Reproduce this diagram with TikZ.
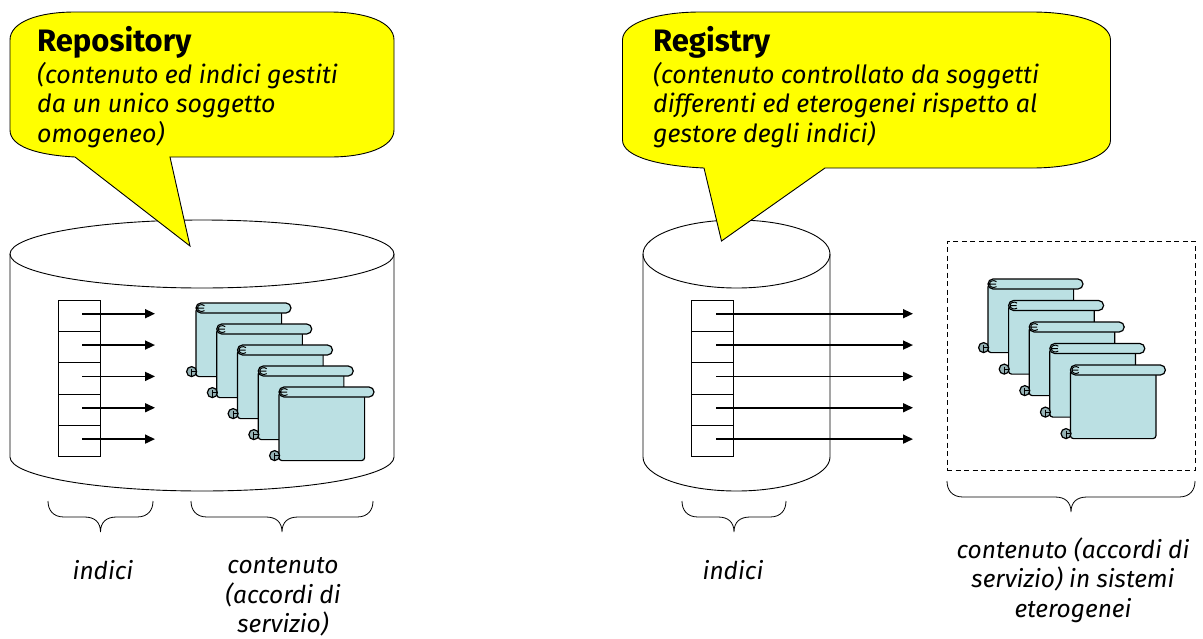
\documentclass[tikz,border=0pt]{standalone}
\usepackage{fontspec}
\setmainfont{Fira Sans}
\usetikzlibrary{arrows.meta}
\definecolor{scrollblue}{HTML}{BBE0E3}
\definecolor{rollblue}{HTML}{96B3B6}
\definecolor{bubbleyellow}{HTML}{FFFF00}
\tikzset{
	bubble/.style={
		draw=black, fill=bubbleyellow, line width=0.9pt
	},
	bubble text/.style={
		anchor=north west, inner sep=0pt, align=left,
		font=\fontsize{25}{29.8}\selectfont\itshape
	},
	drum/.style={
		draw=black, line width=0.9pt
	},
	index cell/.style={
		draw=black, line width=1pt, minimum width=42pt, minimum height=31.4pt, inner sep=0pt
	},
	index arrow/.style={
		-{Triangle[length=10pt,width=9pt]}, line width=1.6pt
	},
	curly/.style={
		line width=0.8pt
	},
	caption/.style={
		align=center, font=\fontsize{24.5}{29.5}\selectfont\itshape
	},
	scroll/.pic={
		\draw[fill=scrollblue, line width=1.2pt, rounded corners=3pt] (0,5) -- (0,73.6) -- (85.6,73.6) -- (85.6,5) -- cycle;
		\draw[fill=scrollblue, line width=1.2pt, rounded corners=5pt] (0,0) rectangle (95,10);
		\draw[fill=rollblue, line width=1.2pt] (-4.4,68.6) circle (5pt);
		\draw[line width=1pt] (-4.4,68.6) -- (0,68.6) (-4.4,66) -- (-4.4,73.6);
		\draw[line width=1pt] (2,5.2) -- (8,5.2) (8.5,2.6) .. controls (5.5,0.6) and (1.5,1.8) .. (1.5,5) .. controls (1.5,8.2) and (5.5,9.4) .. (8.5,7.6);
	}
}
\begin{document}
\begin{tikzpicture}[x=1pt,y=-1pt]
	\useasboundingbox (0,0) rectangle (1203,638);
	
	% cilindri
	\foreach \l/\r/\c/\w in {10/394/202/192, 643/830/736.5/93.5} {
		\draw[drum] (\l,254) -- (\l,457) .. controls (\l,476) and ({\c-0.55*\w},491) .. (\c,491) .. controls ({\c+0.55*\w},491) and (\r,476) .. (\r,457) -- (\r,254);
		\draw[drum] (\c,254) ellipse [x radius=\w pt, y radius=34pt];
	}
	
	% fumetti
	\draw[bubble] (10,40) .. controls (10,22) and (38,12) .. (75,12) -- (330,12) .. controls (366,12) and (394,22) .. (394,40)
		-- (394,130) .. controls (394,147) and (366,157) .. (330,157) -- (170,157) -- (190,246) -- (75,157)
		.. controls (38,155) and (10,147) .. (10,130) -- cycle;
	\draw[bubble] (622.5,40) .. controls (622.5,22) and (660,12) .. (700,12) -- (1032,12) .. controls (1074,12) and (1110.5,22) .. (1110.5,40)
		-- (1110.5,140) .. controls (1110.5,157) and (1074,168) .. (1032,168) -- (825,168) -- (721.5,241) -- (704,168)
		.. controls (660,166) and (622.5,157) .. (622.5,140) -- cycle;
	\node[bubble text] (repoNote) at (37,26) {{\fontsize{31}{31}\selectfont\bfseries\upshape Repository}\\[2pt](contenuto ed indici gestiti\\da un unico soggetto\\omogeneo)};
	\node[bubble text] (regNote) at (653,26) {{\fontsize{31}{31}\selectfont\bfseries\upshape Registry}\\[2pt](contenuto controllato da soggetti\\differenti ed eterogenei rispetto al\\gestore degli indici)};
	
	% indici e frecce
	\foreach \p/\x/\t/\s in {rep/79/155/3pt, reg/712/913/4pt} {
		\foreach \i [evaluate=\i as \y using 315.7+31.35*(\i-1)] in {1,...,5} {
			\node[index cell] (\p\i) at (\x,\y) {};
			\coordinate (\p T\i) at (\t,\y-2);
		}
		\foreach \i in {1,...,5}
			\draw[index arrow] ([xshift=\s,yshift=2pt]\p\i.center) -- (\p T\i);
	}
	
	% contenuti
	\foreach \i in {0,...,4} {
		\pic at ({196+20.75*\i},{303+21*\i}) {scroll};
		\pic at ({988+20.6*\i},{279+21.5*\i}) {scroll};
	}
	\node[draw=black, dash pattern=on 5pt off 3.5pt, line width=1pt, minimum width=248pt, minimum height=229pt, inner sep=0pt] (extBox) at (1071,355.5) {};
	
	% graffe
	\foreach \a/\b/\t in {48/153/501, 191/373/501, 682/786/501, 947/1195/481} {
		\draw[curly] (\a,\t) .. controls (\a,\t+9) and (\a+5,\t+16) .. (\a+16,\t+16)
			-- ({(\a+\b)/2-16},\t+16) .. controls ({(\a+\b)/2-6},\t+16) and ({(\a+\b)/2},\t+21) .. ({(\a+\b)/2},\t+31)
			.. controls ({(\a+\b)/2},\t+21) and ({(\a+\b)/2+6},\t+16) .. ({(\a+\b)/2+16},\t+16)
			-- (\b-16,\t+16) .. controls (\b-5,\t+16) and (\b,\t+9) .. (\b,\t);
	}
	
	\node[caption] (repIdx) at (103,570) {indici};
	\node[caption] (repCnt) at (283,597) {contenuto\\(accordi di\\servizio)};
	\node[caption] (regIdx) at (733,570) {indici};
	\node[caption] (regCnt) at (1073,580) {contenuto (accordi di\\servizio) in sistemi\\eterogenei};
\end{tikzpicture}
\end{document}
